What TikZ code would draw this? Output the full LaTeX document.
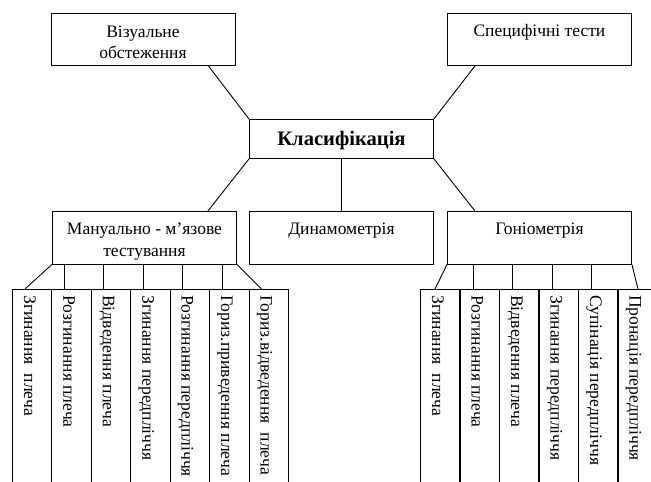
\documentclass[tikz,border=0pt]{standalone}
\usepackage{fontspec}
\setmainfont{Liberation Serif}
\usetikzlibrary{calc}
\newcommand{\bxtext}[3]{\parbox[c][#1pt][t]{184pt}{\centering\fontsize{17.5}{21.5}\selectfont\rule{0pt}{#2pt}#3}}
\begin{document}
\begin{tikzpicture}[x=1pt,y=-1pt,
  box/.style={draw, line width=0.9pt, inner sep=0pt, anchor=north west},
  colbox/.style={draw, line width=0.9pt, inner sep=0pt, minimum width=39.43pt, minimum height=215pt, anchor=north west},
  coltext/.style={rotate=-90, anchor=base west, inner sep=0pt, font=\fontsize{17.6}{20}\selectfont},
  conn/.style={line width=0.9pt}]
\useasboundingbox (0,0) rectangle (651,482);
\clip (0,0) rectangle (651,482);
\fill[white] (0,0) rectangle (651,482);

% top level
\node[box] (vis) at (50.5,13) {\bxtext{52}{24}{Візуальне\\обстеження}};
\node[box] (spec) at (447,13) {\bxtext{52}{23.5}{Специфічні тести}};
\node[box] (cls) at (249,119) {\parbox[c][39pt][t]{184pt}{\centering\fontsize{20.6}{24}\selectfont\bfseries\rule{0pt}{26.5pt}Класифікація}};

% second level
\node[box] (man) at (52,211) {\bxtext{52.5}{23.5}{Мануально - м’язове\\тестування}};
\node[box] (dyn) at (249,211) {\bxtext{52.5}{23.5}{Динамометрія}};
\node[box] (gon) at (447,211) {\bxtext{52.5}{23.5}{Гоніометрія}};

\draw[conn] ([xshift=-27pt]vis.south east) -- (cls.north west);
\draw[conn] ([xshift=28pt]spec.south west) -- (cls.north east);
\draw[conn] (cls.south west) -- ([xshift=-29pt]man.north east);
\draw[conn] (cls.south) -- (dyn.north);
\draw[conn] (cls.south east) -- ([xshift=28pt]gon.north west);

% manual-muscle testing columns
\foreach \i/\t in {1/{Згинання\ \ плеча}, 2/{Розгинання плеча}, 3/{Відведення плеча},
  4/{Згинання передпліччя}, 5/{Розгинання передпліччя}, 6/{Гориз.приведення плеча},
  7/{Гориз.відведення\ \ плеча}} {
  \node[colbox] (m\i) at ({12+(\i-1)*39.43},289) {};
  \node[coltext] (mt\i) at ($(m\i.north west)+(12,6)$) {\t};
  \coordinate (mp\i) at ($(m\i.north west)+(13,0)$);
}
\draw[conn] (man.south west) -- (mp1);
\foreach \i in {2,...,6} \draw[conn] (mp\i |- man.south) -- (mp\i);
\draw[conn] (man.south east) -- (mp7);

% goniometry columns
\foreach \i/\t in {1/{Згинання\ \ плеча}, 2/{Розгинання плеча}, 3/{Відведення плеча},
  4/{Згинання передпліччя}, 5/{Супінація передпліччя}, 6/{Пронація передпліччя}} {
  \node[colbox] (g\i) at ({420+(\i-1)*39.5},289) {};
  \node[coltext] (gt\i) at ($(g\i.north west)+(12,6)$) {\t};
  \coordinate (gp\i) at ($(g\i.north west)+(13.5,0)$);
}
\coordinate (gq1) at ($(g1.north west)+(15,0)$);
\coordinate (gq6) at ($(g6.north west)+(20.5,0)$);
\draw[conn] (gon.south west) -- (gq1);
\foreach \i in {2,...,5} \draw[conn] (gp\i |- gon.south) -- (gp\i);
\draw[conn] (gon.south east) -- (gq6);
\end{tikzpicture}
\end{document}
